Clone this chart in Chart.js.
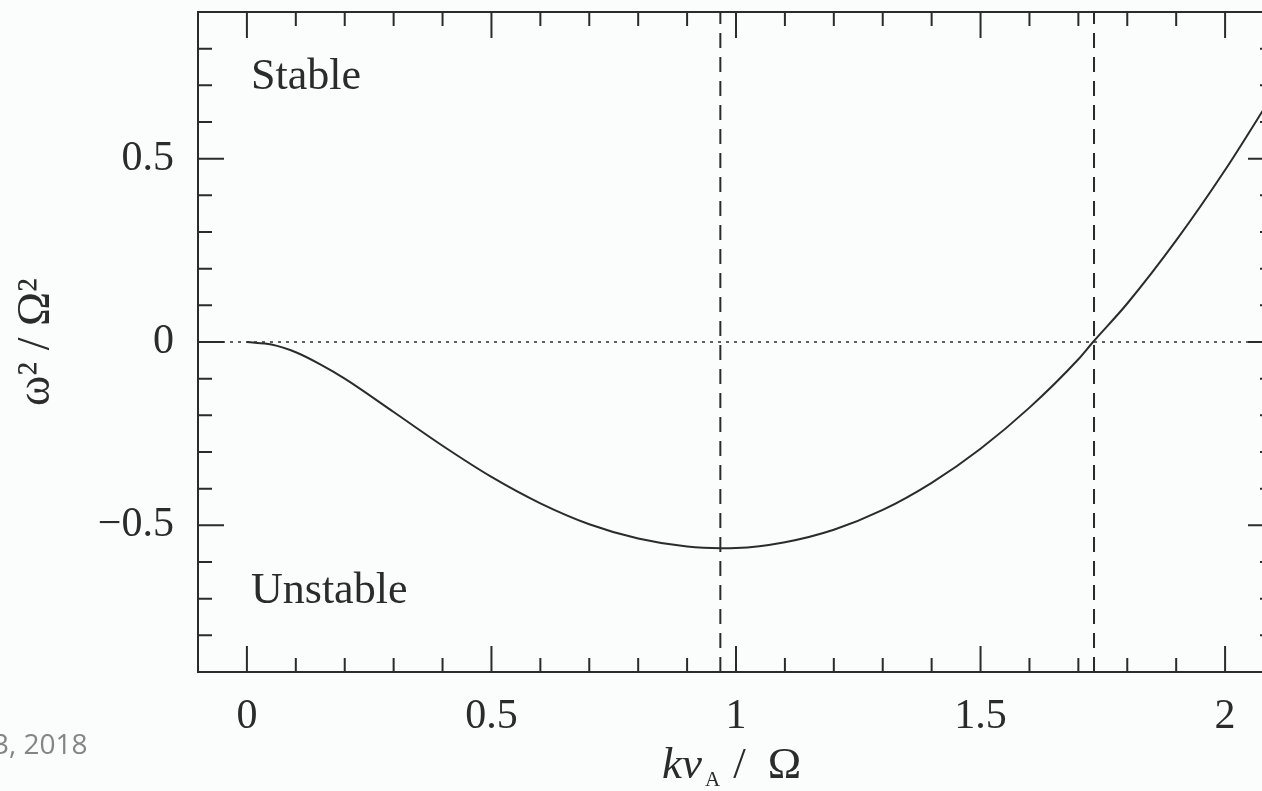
<!DOCTYPE html>
<html>
<head>
<meta charset="utf-8">
<script src="https://cdn.jsdelivr.net/npm/chart.js@4"></script>
<style>
  html, body { margin:0; padding:0; width:1262px; height:791px; overflow:hidden; background:#fbfcfc; }
  #wrap { position:absolute; left:0; top:0; width:1300px; height:791px; }
  canvas { display:block; }
  .note { position:absolute; font-family:"Liberation Serif", serif; color:#2b2b2b; white-space:nowrap; line-height:1; }
  #footer { position:absolute; left:-7px; top:729px; font-family:"Open Sans", "Liberation Sans", sans-serif; font-size:28px; line-height:1; color:#858585; }
</style>
</head>
<body>
<div id="wrap"><canvas id="c" width="1300" height="791"></canvas></div>
<div class="note" id="stable" style="left:251px; top:53px; font-size:44px;">Stable</div>
<div class="note" id="unstable" style="left:251px; top:567px; font-size:44px;">Unstable</div>
<div class="note" id="xtitle" style="left:662px; top:741px; font-size:45px;"><i>kv</i><sub style="font-size:21px; vertical-align:-8px; margin-left:3px;">A</sub><span style="margin-left:13px;">/</span><span style="margin-left:22px;">Ω</span></div>
<div id="footer">3, 2018</div>
<script>
// ---- data ----
const kvA = [0, 0.05, 0.1, 0.15, 0.2, 0.3, 0.4, 0.5, 0.6, 0.7, 0.8, 0.9, 0.97, 1.0, 1.1, 1.2, 1.3, 1.4, 1.5, 1.6, 1.7, 1.73, 1.8, 1.9, 2.0, 2.1];
const omega2 = [0, -0.007, -0.028, -0.061, -0.100, -0.191, -0.283, -0.368, -0.440, -0.497, -0.536, -0.558, -0.5625, -0.562, -0.546, -0.512, -0.458, -0.384, -0.291, -0.179, -0.047, 0, 0.105, 0.277, 0.469, 0.680];
const criticalK = [0.968, 1.732];           // dashed vertical lines
const xRange = [-0.1, 2.1];
const yRange = [-0.9, 0.9];
const xMajorTicks = [0, 0.5, 1, 1.5, 2];
const xMinorTicks = [0.1,0.2,0.3,0.4,0.6,0.7,0.8,0.9,1.1,1.2,1.3,1.4,1.6,1.7,1.8,1.9];
const yMajorTicks = [-0.5, 0, 0.5];
const yMinorTicks = [-0.8,-0.7,-0.6,-0.4,-0.3,-0.2,-0.1,0.1,0.2,0.3,0.4,0.6,0.7,0.8];
const yTitle = 'ω² / Ω²';

const ink = '#2b2b2b';

const curve = kvA.map((x, i) => ({ x: x, y: omega2[i] }));

const datasets = [
  { data: curve, borderColor: ink, borderWidth: 2, pointRadius: 0, showLine: true, cubicInterpolationMode: 'monotone', fill: false },
  { data: [{ x: xRange[0], y: 0 }, { x: xRange[1], y: 0 }], borderColor: ink, borderWidth: 1.6, borderDash: [3, 5], pointRadius: 0, showLine: true },
];
criticalK.forEach(k => {
  datasets.push({ data: [{ x: k, y: yRange[0] }, { x: k, y: yRange[1] }], borderColor: ink, borderWidth: 2, borderDash: [15, 9], pointRadius: 0, showLine: true });
});

const framePlugin = {
  id: 'frame',
  afterDatasetsDraw(chart) {
    const { ctx, chartArea: a, scales: { x, y } } = chart;
    ctx.save();
    ctx.strokeStyle = ink;
    ctx.lineWidth = 2;
    ctx.strokeRect(a.left, a.top, a.right - a.left, a.bottom - a.top);
    const major = 26, minor = 14;
    ctx.beginPath();
    const xt = (v, L) => { const p = x.getPixelForValue(v); ctx.moveTo(p, a.bottom); ctx.lineTo(p, a.bottom - L); ctx.moveTo(p, a.top); ctx.lineTo(p, a.top + L); };
    const yt = (v, L) => { const p = y.getPixelForValue(v); ctx.moveTo(a.left, p); ctx.lineTo(a.left + L, p); ctx.moveTo(a.right, p); ctx.lineTo(a.right - L, p); };
    xMajorTicks.forEach(v => xt(v, major));
    xMinorTicks.forEach(v => xt(v, minor));
    yMajorTicks.forEach(v => yt(v, major));
    yMinorTicks.forEach(v => yt(v, minor));
    ctx.stroke();
    ctx.restore();
  }
};

Chart.defaults.font.family = '"Liberation Serif", serif';
Chart.defaults.color = ink;

new Chart(document.getElementById('c'), {
  type: 'scatter',
  data: { datasets },
  options: {
    responsive: false,
    animation: false,
    devicePixelRatio: 1,
    layout: { padding: { top: 12, right: 26, left: 0, bottom: 0 } },
    plugins: { legend: { display: false }, tooltip: { enabled: false } },
    scales: {
      x: {
        type: 'linear', min: xRange[0], max: xRange[1],
        afterFit(s) { s.height = 119; s.paddingLeft = 0; s.paddingRight = 0; },
        afterBuildTicks(s) { s.ticks = xMajorTicks.map(v => ({ value: v })); },
        grid: { display: false, drawTicks: false },
        border: { display: false },
        ticks: { padding: 20, font: { size: 42 }, color: ink, callback: v => String(v) }
      },
      y: {
        type: 'linear', min: yRange[0], max: yRange[1],
        afterFit(s) { s.width = 198; s.paddingTop = 0; s.paddingBottom = 0; },
        afterBuildTicks(s) { s.ticks = yMajorTicks.map(v => ({ value: v })); },
        grid: { display: false, drawTicks: false },
        border: { display: false },
        ticks: { padding: 24, font: { size: 42 }, color: ink, callback: v => (v < 0 ? '\u2212' + String(-v) : String(v)) },
        title: { display: true, text: yTitle, font: { size: 46 }, color: ink, padding: { top: 9, bottom: 0 } }
      }
    }
  },
  plugins: [framePlugin]
});
</script>
</body>
</html>
